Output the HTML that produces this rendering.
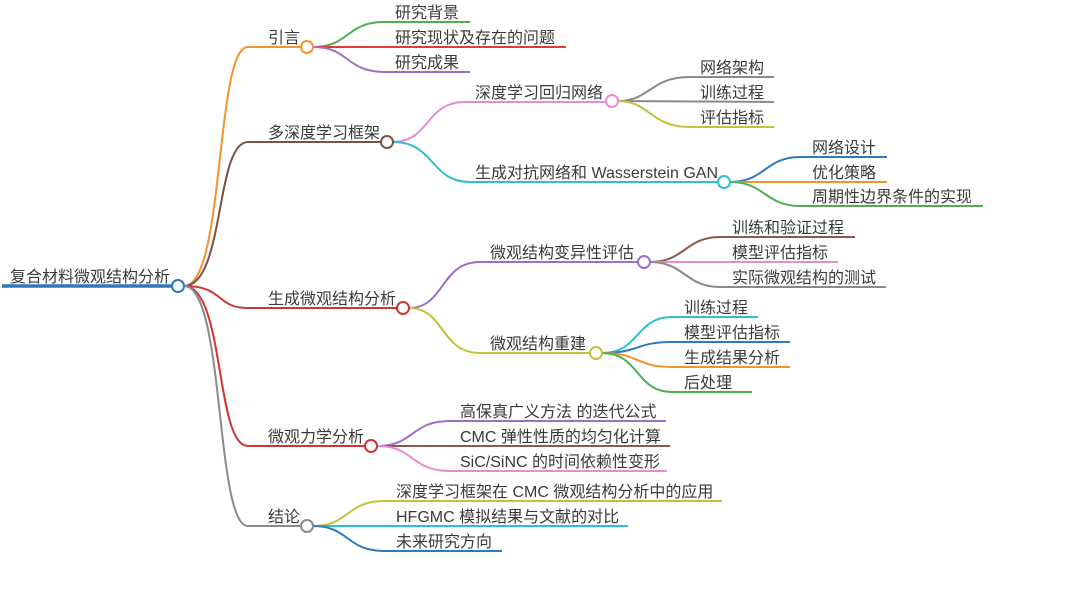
<!DOCTYPE html>
<html><head><meta charset="utf-8"><style>
html,body{margin:0;padding:0;background:#fff;}
svg text{font-family:"Liberation Sans","Noto Sans CJK SC",sans-serif;font-size:16px;fill:#3a3a3a;}
</style></head><body>
<svg width="1080" height="604" viewBox="0 0 1080 604" xmlns="http://www.w3.org/2000/svg">
<g fill="none" stroke-width="2">
<path d="M184 286 C225 286 215 47 248 47 L301 47" stroke="#f5922f"/>
<path d="M184 286 C225 286 215 142 248 142 L381 142" stroke="#7b5247"/>
<path d="M184 286 C225 286 215 308 248 308 L397 308" stroke="#d03535"/>
<path d="M184 286 C225 286 215 446 248 446 L365 446" stroke="#d03535"/>
<path d="M184 286 C225 286 215 526 248 526 L301 526" stroke="#8a8a8a"/>
<path d="M313 47 C350 47 345 22 385 22 L470 22" stroke="#4caf50"/>
<path d="M313 47 L566 47" stroke="#e03a3a"/>
<path d="M313 47 C350 47 345 72 385 72 L470 72" stroke="#9c6fc9"/>
<path d="M393 142 C430 142 425 102 465 102 L606 102" stroke="#e88bd0"/>
<path d="M393 142 C435 142 430 182 470 182 L718 182" stroke="#2ebfd1"/>
<path d="M618 101 C650 101 650 77 690 77 L774 77" stroke="#8a8a8a"/>
<path d="M618 101 L774 102" stroke="#8a8a8a"/>
<path d="M618 101 C650 101 650 127 690 127 L774 127" stroke="#c4c23a"/>
<path d="M730 182 C765 182 765 157 800 157 L887 157" stroke="#2f79bf"/>
<path d="M730 182 L887 182" stroke="#f5922f"/>
<path d="M730 182 C765 182 765 206 800 206 L983 206" stroke="#4caf50"/>
<path d="M409 308 C445 308 440 262 480 262 L638 262" stroke="#9c6fc9"/>
<path d="M409 308 C445 308 440 353 480 353 L590 353" stroke="#c4c23a"/>
<path d="M650 262 C685 262 685 237 720 237 L855 237" stroke="#8a5a4c"/>
<path d="M650 262 L838 262" stroke="#e88bd0"/>
<path d="M650 262 C685 262 685 287 720 287 L886 287" stroke="#8a8a8a"/>
<path d="M602 353 C640 353 635 317 672 317 L758 317" stroke="#2ebfd1"/>
<path d="M602 353 C640 353 635 342 672 342 L790 342" stroke="#2f79bf"/>
<path d="M602 353 C640 353 635 367 672 367 L790 367" stroke="#f5922f"/>
<path d="M602 353 C640 353 635 392 672 392 L752 392" stroke="#4caf50"/>
<path d="M377 446 C415 446 410 421 450 421 L666 421" stroke="#9c6fc9"/>
<path d="M377 446 L670 446" stroke="#8a5a4c"/>
<path d="M377 446 C415 446 410 471 450 471 L667 471" stroke="#e88bd0"/>
<path d="M313 526 C350 526 345 501 385 501 L722 501" stroke="#c4c23a"/>
<path d="M313 526 L628 526" stroke="#2ebfd1"/>
<path d="M313 526 C350 526 345 551 385 551 L502 551" stroke="#2f79bf"/>
<path d="M2 286 L172 286" stroke="#2f79bf" stroke-width="3.5"/>
</g>
<g fill="#fff" stroke-width="2">
<circle cx="178" cy="286" r="6" stroke="#2f79bf"/>
<circle cx="307" cy="47" r="6" stroke="#f5922f"/>
<circle cx="387" cy="142" r="6" stroke="#7b5247"/>
<circle cx="403" cy="308" r="6" stroke="#d03535"/>
<circle cx="371" cy="446" r="6" stroke="#d03535"/>
<circle cx="307" cy="526" r="6" stroke="#8a8a8a"/>
<circle cx="612" cy="101" r="6" stroke="#e88bd0"/>
<circle cx="724" cy="182" r="6" stroke="#2ebfd1"/>
<circle cx="644" cy="262" r="6" stroke="#9c6fc9"/>
<circle cx="596" cy="353" r="6" stroke="#c4c23a"/>
</g>
<text x="10" y="282">复合材料微观结构分析</text>
<text x="268" y="43">引言</text>
<text x="268" y="138">多深度学习框架</text>
<text x="268" y="304">生成微观结构分析</text>
<text x="268" y="442">微观力学分析</text>
<text x="268" y="522">结论</text>
<text x="395" y="18">研究背景</text>
<text x="395" y="43">研究现状及存在的问题</text>
<text x="395" y="68">研究成果</text>
<text x="475" y="98">深度学习回归网络</text>
<text x="475" y="178">生成对抗网络和 Wasserstein GAN</text>
<text x="700" y="73">网络架构</text>
<text x="700" y="98">训练过程</text>
<text x="700" y="123">评估指标</text>
<text x="812" y="153">网络设计</text>
<text x="812" y="178">优化策略</text>
<text x="812" y="202">周期性边界条件的实现</text>
<text x="490" y="258">微观结构变异性评估</text>
<text x="490" y="349">微观结构重建</text>
<text x="732" y="233">训练和验证过程</text>
<text x="732" y="258">模型评估指标</text>
<text x="732" y="283">实际微观结构的测试</text>
<text x="684" y="313">训练过程</text>
<text x="684" y="338">模型评估指标</text>
<text x="684" y="363">生成结果分析</text>
<text x="684" y="388">后处理</text>
<text x="460" y="417">高保真广义方法 的迭代公式</text>
<text x="460" y="442">CMC 弹性性质的均匀化计算</text>
<text x="460" y="467">SiC/SiNC 的时间依赖性变形</text>
<text x="396" y="497">深度学习框架在 CMC 微观结构分析中的应用</text>
<text x="396" y="522">HFGMC 模拟结果与文献的对比</text>
<text x="396" y="547">未来研究方向</text>
</svg>
</body></html>
